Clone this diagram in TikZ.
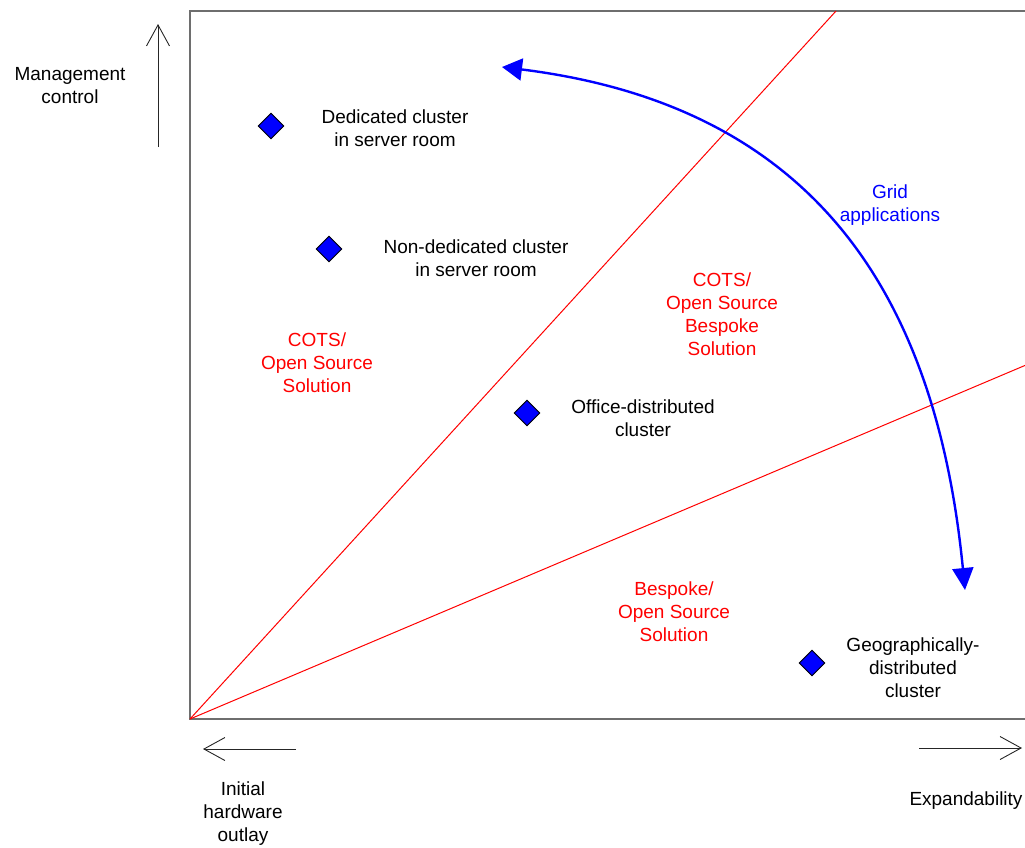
\documentclass[tikz,border=0pt]{standalone}
\usepackage{fontspec}
\setmainfont{Liberation Sans}
\usetikzlibrary{arrows.meta,shapes.geometric}
\definecolor{frameg}{RGB}{110,110,110}
\definecolor{pureblue}{RGB}{0,0,255}
\definecolor{purered}{RGB}{255,0,0}
\tikzset{
  lbl/.style={align=center,inner sep=0pt,font=\fontsize{19}{23}\selectfont},
  blacklbl/.style={lbl,text=black},
  redlbl/.style={lbl,text=purered},
  bluelbl/.style={lbl,text=pureblue},
  marker/.style={diamond,draw=black,fill=pureblue,line width=0.9pt,minimum size=26pt,inner sep=0pt},
  framestyle/.style={draw=frameg,line width=1.5pt},
  redline/.style={draw=purered,line width=1pt},
  axisarrow/.style={draw=black!85,line width=0.9pt,-{Straight Barb[length=21pt,width=23pt]}},
  gridarrow/.style={draw=pureblue,line width=2.4pt,{Triangle[length=20pt,width=22pt]}-{Triangle[length=22pt,width=21pt]}}
}
\begin{document}
\begin{tikzpicture}[x=1pt,y=-1pt]
\useasboundingbox (0,0) rectangle (1025,847);
% frame
\coordinate (O) at (190,719);
\coordinate (TL) at (190,11);
\coordinate (TR) at (1026,11);
\coordinate (BR) at (1026,719);
\draw[framestyle] (TR) -- (TL) -- (O) -- (BR);
% red lines
\coordinate (R1) at (836,11);
\coordinate (R2) at (1026,365);
\draw[redline] (O) -- (R1);
\draw[redline] (O) -- (R2);
% axis arrows
\coordinate (vb) at (158,147);
\coordinate (vt) at (158,24);
\draw[axisarrow] (vb) -- (vt);
\coordinate (lb) at (296,749);
\coordinate (lt) at (203,749);
\draw[axisarrow] (lb) -- (lt);
\coordinate (rb) at (919,748);
\coordinate (rt) at (1022,748);
\draw[axisarrow] (rb) -- (rt);
% grid arrow
\coordinate (gs) at (502,67);
\coordinate (ge) at (965,590);
\draw[gridarrow] (gs) .. controls (807,105) and (935,285) .. (ge);
% markers
\node[marker] (m1) at (271,126) {};
\node[marker] (m2) at (329,249) {};
\node[marker] (m3) at (527,413) {};
\node[marker] (m4) at (812,663) {};
% labels
\node[blacklbl] (mc) at (70,86) {Management\\control};
\node[blacklbl] (dc) at (395,128) {Dedicated cluster\\in server room};
\node[blacklbl] (nd) at (476,258) {Non-dedicated cluster\\in server room};
\node[redlbl] (cl) at (317,363) {COTS/\\Open Source\\Solution};
\node[redlbl] (cr) at (722,314) {COTS/\\Open Source\\Bespoke\\Solution};
\node[bluelbl] (ga) at (890,205) {Grid\\applications};
\node[blacklbl] (od) at (643,418) {Office-distributed\\cluster};
\node[redlbl] (bo) at (674,612) {Bespoke/\\Open Source\\Solution};
\node[blacklbl] (gd) at (913,668) {Geographically-\\distributed\\cluster};
\node[blacklbl] (ih) at (243,814) {Initial\\hardware\\outlay};
\node[blacklbl] (ex) at (966,801) {Expandability};
\end{tikzpicture}
\end{document}
